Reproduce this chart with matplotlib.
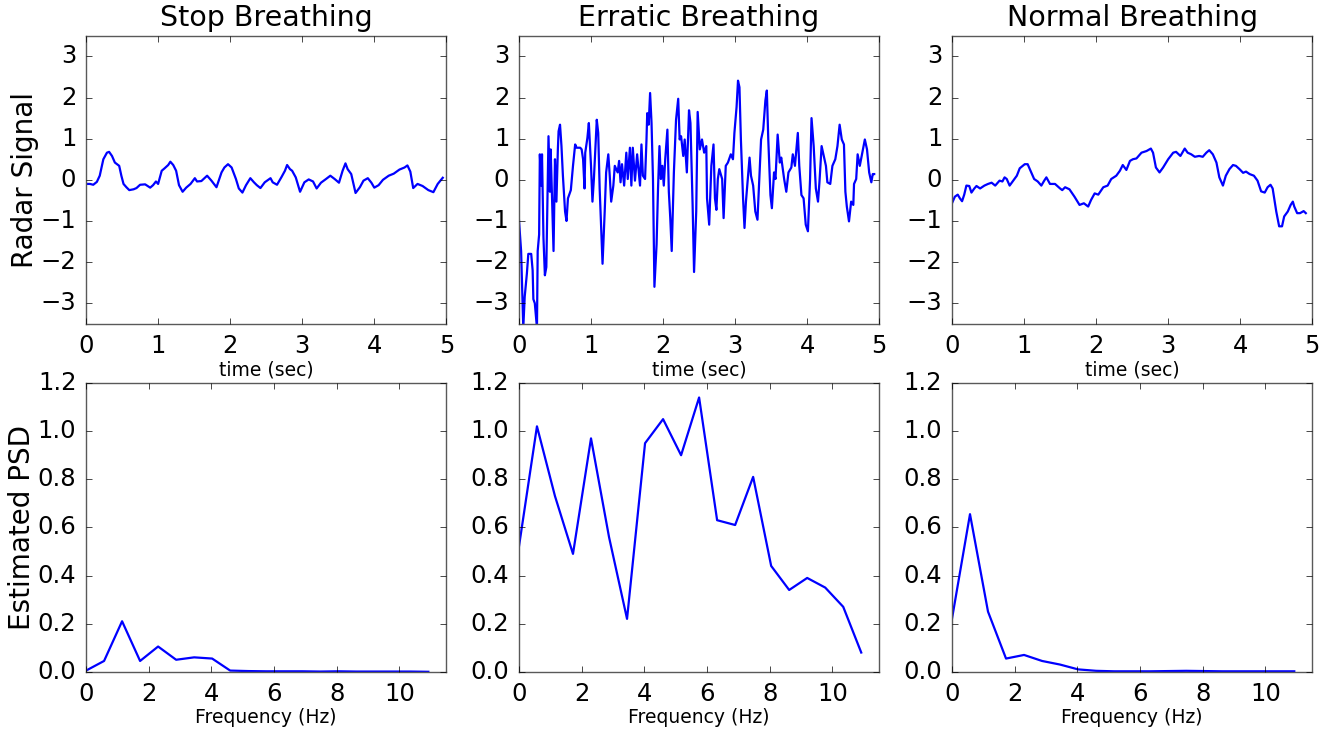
import numpy as np
import matplotlib
matplotlib.use('Agg')
import matplotlib.pyplot as plt

plt.style.use('classic')

# Señales de radar (tiempo en s, amplitud)
t_stop = [0.00, 0.055, 0.10, 0.15, 0.19, 0.24, 0.29, 0.32, 0.36, 0.40, 0.43, 0.46, 0.49, 0.52,
          0.56, 0.60, 0.66, 0.70, 0.75, 0.82, 0.89, 0.93, 0.97, 1.00, 1.05, 1.09, 1.14, 1.17,
          1.21, 1.25, 1.29, 1.34, 1.39, 1.45, 1.51, 1.54, 1.60, 1.68, 1.74, 1.81, 1.88, 1.92,
          1.97, 2.02, 2.08, 2.12, 2.17, 2.22, 2.28, 2.33, 2.37, 2.42, 2.48, 2.56, 2.59, 2.65,
          2.71, 2.76, 2.79, 2.83, 2.86, 2.91, 2.97, 3.03, 3.09, 3.15, 3.20, 3.26, 3.33, 3.39,
          3.45, 3.51, 3.56, 3.60, 3.63, 3.68, 3.74, 3.80, 3.85, 3.91, 3.96, 4.00, 4.06,
          4.12, 4.20, 4.27, 4.35, 4.42, 4.46, 4.50, 4.54, 4.60, 4.67, 4.75, 4.82, 4.88, 4.95]
y_stop = [-0.1, -0.1, -0.12, -0.05, 0.1, 0.5, 0.66, 0.68, 0.58, 0.42, 0.38, 0.34, 0.1, -0.1,
          -0.18, -0.25, -0.23, -0.2, -0.12, -0.11, -0.19, -0.13, -0.04, -0.1, 0.22, 0.28, 0.36, 0.44,
          0.36, 0.22, -0.13, -0.29, -0.19, -0.1, 0.04, -0.04, -0.03, 0.1, -0.02, -0.18, 0.18, 0.3,
          0.38, 0.3, 0.02, -0.21, -0.31, -0.13, 0.04, -0.06, -0.13, -0.2, -0.06, 0.04, -0.06, -0.12,
          0.06, 0.22, 0.36, 0.26, 0.22, 0.06, -0.29, -0.06, 0.01, -0.04, -0.21, -0.07, 0.02, 0.1,
          0.02, -0.07, 0.22, 0.4, 0.26, 0.14, -0.32, -0.18, -0.02, 0.04, -0.07, -0.19, -0.13,
          0.0, 0.1, 0.15, 0.25, 0.3, 0.35, 0.2, -0.2, -0.1, -0.15, -0.25, -0.3, -0.1, 0.05]

t_err = [0.00, 0.03, 0.06, 0.08, 0.11, 0.13, 0.17, 0.19, 0.20, 0.22, 0.25, 0.26, 0.28, 0.29,
         0.31, 0.32, 0.34, 0.36, 0.38, 0.41, 0.43, 0.44, 0.46, 0.48, 0.50, 0.52, 0.54, 0.55,
         0.57, 0.59, 0.61, 0.64, 0.66, 0.68, 0.72, 0.75, 0.78, 0.80, 0.85, 0.87, 0.89, 0.91,
         0.92, 0.95, 0.97, 1.00, 1.02, 1.04, 1.08, 1.10, 1.12, 1.15, 1.16, 1.19, 1.21, 1.24,
         1.26, 1.28, 1.31, 1.33, 1.37, 1.39, 1.41, 1.43, 1.46, 1.49, 1.51, 1.54, 1.56, 1.58,
         1.61, 1.64, 1.68, 1.70, 1.72, 1.75, 1.77, 1.78, 1.80, 1.82, 1.84, 1.86, 1.88, 1.91,
         1.93, 1.95, 1.97, 1.99, 2.01, 2.03, 2.06, 2.08, 2.10, 2.12, 2.15, 2.18, 2.21, 2.23,
         2.25, 2.28, 2.30, 2.33, 2.36, 2.38, 2.41, 2.43, 2.46, 2.48, 2.51, 2.54, 2.57, 2.60,
         2.61, 2.64, 2.67, 2.70, 2.72, 2.74, 2.76, 2.78, 2.82, 2.84, 2.87, 2.90, 2.94, 2.97,
         2.99, 3.02, 3.04, 3.06, 3.08, 3.11, 3.13, 3.15, 3.18, 3.20, 3.22, 3.25, 3.28, 3.31,
         3.33, 3.36, 3.39, 3.42, 3.44, 3.46, 3.49, 3.51, 3.54, 3.56, 3.59, 3.62, 3.64, 3.68,
         3.71, 3.74, 3.78, 3.80, 3.83, 3.87, 3.89, 3.92, 3.95, 3.98, 4.01, 4.04, 4.06, 4.09,
         4.12, 4.15, 4.17, 4.20, 4.23, 4.26, 4.28, 4.32, 4.35, 4.39, 4.42, 4.45, 4.48, 4.51,
         4.53, 4.55, 4.58, 4.61, 4.64, 4.65, 4.68, 4.70, 4.73, 4.77, 4.80, 4.83, 4.86, 4.89,
         4.91, 4.93]
y_err = [-0.97, -1.73, -3.6, -2.84, -2.28, -1.8, -1.8, -2.2, -2.9, -3.0, -3.6, -1.73, -1.33, 0.62,
         -0.14, 0.62, -1.4, -2.32, -2.12, 1.06, -0.29, 0.74, -0.45, -1.73, 0.5, -0.53, 0.74, 1.18,
         1.34, 0.82, 0.1, -0.77, -1.0, -0.45, -0.25, 0.34, 0.86, 0.78, 0.78, 0.74, 0.5, -0.21,
         0.66, 1.02, 1.38, 0.34, -0.53, 0.02, 1.46, 1.14, -0.21, -1.57, -2.04, -0.77, 0.18, 0.62,
         0.1, -0.53, -0.14, 0.34, 0.18, 0.46, -0.06, 0.38, -0.14, 0.66, 0.02, 0.78, -0.14, 0.78,
         -0.02, 0.62, -0.14, 0.86, 0.1, 0.02, 0.98, 1.62, 1.34, 2.11, 1.38, 0.02, -2.6, -1.57,
         -0.21, 0.82, 0.02, 0.34, -0.14, 0.5, 1.22, -0.29, -0.93, -1.73, 0.18, 1.46, 1.97, 0.98,
         1.06, 0.58, 0.98, 0.18, 1.69, 1.38, -0.61, -2.24, -0.77, 1.65, 0.74, 0.98, 0.66, 0.82,
         -0.45, -1.09, 0.34, 0.86, -0.45, -0.73, 0.02, 0.26, 0.02, -0.93, 0.34, 0.42, 0.62, 0.5,
         1.14, 1.77, 2.41, 2.25, 0.98, -0.45, -1.17, -0.53, 0.1, 0.54, 0.1, -0.14, -0.77, -0.97,
         -0.21, 0.98, 1.22, 1.93, 2.17, 0.98, -0.37, -0.69, 0.18, 0.02, 1.1, 0.42, 0.54, 0.02,
         -0.29, 0.18, 0.3, 0.62, 0.34, 1.14, 0.34, -0.37, -0.45, -1.09, -1.25, 0.02, 1.5, 0.82,
         -0.21, -0.53, -0.06, 0.82, 0.58, 0.34, -0.06, -0.1, 0.34, 0.5, 0.82, 1.34, 0.98, 0.86,
         -0.29, -0.65, -1.01, -0.53, -0.61, -0.1, 0.02, 0.62, 0.34, 0.7, 0.98, 0.74, 0.18, -0.06,
         0.14, 0.14]

t_norm = [0.00, 0.04, 0.08, 0.11, 0.14, 0.17, 0.20, 0.24, 0.27, 0.31, 0.34, 0.39, 0.45, 0.50,
          0.55, 0.60, 0.66, 0.70, 0.73, 0.76, 0.80, 0.85, 0.90, 0.94, 1.01, 1.05, 1.09, 1.14,
          1.19, 1.24, 1.28, 1.31, 1.36, 1.43, 1.50, 1.53, 1.57, 1.63, 1.70, 1.77, 1.83, 1.89,
          1.93, 1.98, 2.03, 2.10, 2.16, 2.21, 2.28, 2.33, 2.37, 2.42, 2.47, 2.51, 2.56, 2.63,
          2.70, 2.76, 2.79, 2.83, 2.88, 2.93, 3.00, 3.07, 3.11, 3.17, 3.23, 3.27, 3.32, 3.37,
          3.43, 3.48, 3.53, 3.57, 3.62, 3.67, 3.71, 3.76, 3.80, 3.85, 3.90, 3.94, 3.99, 4.04,
          4.08, 4.13, 4.19, 4.24, 4.29, 4.34, 4.38, 4.42, 4.45, 4.50, 4.54, 4.58, 4.61, 4.66,
          4.70, 4.73, 4.75, 4.79, 4.83, 4.88, 4.91]
y_norm = [-0.57, -0.41, -0.36, -0.45, -0.52, -0.36, -0.14, -0.15, -0.31, -0.21, -0.15, -0.21, -0.14, -0.1,
          -0.07, -0.14, -0.02, -0.04, 0.06, 0.02, -0.14, -0.02, 0.1, 0.28, 0.38, 0.38, 0.22, 0.02,
          -0.04, -0.14, -0.02, 0.06, -0.1, -0.1, -0.21, -0.25, -0.18, -0.23, -0.41, -0.61, -0.57, -0.65,
          -0.49, -0.33, -0.36, -0.18, -0.14, 0.02, 0.1, 0.22, 0.36, 0.24, 0.46, 0.5, 0.52, 0.66,
          0.7, 0.76, 0.66, 0.3, 0.18, 0.3, 0.5, 0.66, 0.68, 0.58, 0.76, 0.66, 0.62, 0.56,
          0.58, 0.56, 0.66, 0.72, 0.62, 0.42, 0.06, -0.14, 0.1, 0.26, 0.36, 0.34, 0.26, 0.17,
          0.2, 0.14, 0.1, -0.02, -0.28, -0.31, -0.18, -0.12, -0.21, -0.77, -1.13, -1.13, -0.89, -0.77,
          -0.61, -0.53, -0.65, -0.81, -0.81, -0.76, -0.81]

# Densidad espectral estimada
df = 0.575
n_freq = 20
psd_stop = [0.005, 0.045, 0.21, 0.045, 0.105, 0.05, 0.06, 0.055, 0.005, 0.003,
            0.002, 0.002, 0.002, 0.001, 0.002, 0.001, 0.001, 0.001, 0.001, 0.0]
psd_err = [0.52, 1.02, 0.73, 0.49, 0.97, 0.56, 0.22, 0.95, 1.05, 0.90,
           1.14, 0.63, 0.61, 0.81, 0.44, 0.34, 0.39, 0.35, 0.27, 0.08]
psd_norm = [0.22, 0.655, 0.25, 0.055, 0.07, 0.045, 0.03, 0.01, 0.004, 0.002,
            0.002, 0.002, 0.003, 0.004, 0.003, 0.002, 0.002, 0.002, 0.002, 0.002]

titulos = ['Stop Breathing', 'Erratic Breathing', 'Normal Breathing']
senales = [(t_stop, y_stop), (t_err, y_err), (t_norm, y_norm)]
psds = [psd_stop, psd_err, psd_norm]
freq = np.arange(n_freq) * df

fig = plt.figure(figsize=(13.32, 7.31), dpi=100, facecolor='white')
lefts = [0.0646, 0.3896, 0.7147]
w = 0.2705

for i in range(3):
    ax = fig.add_axes([lefts[i], 0.557, w, 0.394])
    ax.plot(senales[i][0], senales[i][1], 'b', lw=1.6)
    ax.set_xlim(0, 5)
    ax.set_ylim(-3.5, 3.5)
    ax.set_yticks([-3, -2, -1, 0, 1, 2, 3])
    ax.set_title(titulos[i], fontsize=20.5, y=1.01)
    ax.set_xlabel('time (sec)', fontsize=13.5, labelpad=2)
    ax.tick_params(labelsize=17.5, pad=7)
    if i == 0:
        ax.set_ylabel('Radar Signal', fontsize=20, labelpad=1)

    ax2 = fig.add_axes([lefts[i], 0.081, w, 0.395])
    ax2.plot(freq, psds[i], 'b', lw=1.6)
    ax2.set_xlim(0, 11.5)
    ax2.set_ylim(0, 1.2)
    ax2.set_xticks([0, 2, 4, 6, 8, 10])
    ax2.set_yticks(np.arange(0, 1.21, 0.2))
    ax2.set_xlabel('Frequency (Hz)', fontsize=13.5, labelpad=2)
    ax2.tick_params(labelsize=17.5, pad=7)
    if i == 0:
        ax2.set_ylabel('Estimated PSD', fontsize=20, labelpad=1)

for ax in fig.axes:
    for s in ax.spines.values():
        s.set_color('0.35')

plt.savefig('out.png', dpi=100, facecolor='white')
